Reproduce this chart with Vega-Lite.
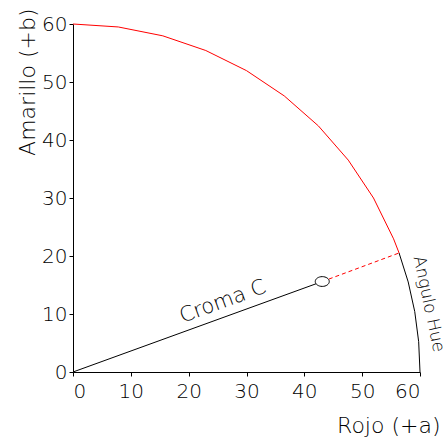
{
  "$schema": "https://vega.github.io/schema/vega-lite/v6.json",
  "autosize": "none",
  "width": 347,
  "height": 348,
  "padding": {"left": 73, "top": 24, "right": 26, "bottom": 67},
  "background": "white",
  "config": {
    "view": {"stroke": null},
    "axis": {
      "grid": false,
      "domainColor": "black",
      "domainWidth": 1,
      "tickColor": "black",
      "tickSize": 4,
      "labelFont": "DejaVu Sans",
      "labelFontSize": 20,
      "labelFontWeight": 200,
      "labelColor": "black",
      "titleFont": "DejaVu Sans",
      "titleFontSize": 22,
      "titleFontWeight": 200,
      "titleColor": "black"
    }
  },
  "datasets": {
    "redArc": [
      {"a": 0, "b": 60, "o": 1},
      {"a": 7.83, "b": 59.49, "o": 2},
      {"a": 15.53, "b": 57.96, "o": 3},
      {"a": 22.96, "b": 55.43, "o": 4},
      {"a": 30.0, "b": 51.96, "o": 5},
      {"a": 36.53, "b": 47.6, "o": 6},
      {"a": 42.43, "b": 42.43, "o": 7},
      {"a": 47.6, "b": 36.53, "o": 8},
      {"a": 51.96, "b": 30.0, "o": 9},
      {"a": 55.43, "b": 22.96, "o": 10},
      {"a": 56.38, "b": 20.52, "o": 11}
    ],
    "blackArc": [
      {"a": 56.38, "b": 20.52, "o": 1},
      {"a": 57.96, "b": 15.53, "o": 2},
      {"a": 59.09, "b": 10.42, "o": 3},
      {"a": 59.77, "b": 5.23, "o": 4},
      {"a": 60, "b": 0, "o": 5}
    ],
    "chroma": [
      {"a": 0, "b": 0, "o": 1},
      {"a": 43.1, "b": 15.6, "o": 2}
    ],
    "dashed": [
      {"a": 43.1, "b": 15.6, "o": 1},
      {"a": 56.38, "b": 20.52, "o": 2}
    ],
    "point": [
      {"a": 43.1, "b": 15.6}
    ],
    "labels": [
      {"a": 25.9, "b": 12.1, "t": "Croma C", "ang": -20, "fs": 21},
      {"a": 61.5, "b": 11.7, "t": "Angulo Hue", "ang": 78, "fs": 17}
    ]
  },
  "encoding": {
    "x": {
      "field": "a", "type": "quantitative",
      "scale": {"domain": [0, 60], "nice": false, "zero": false},
      "axis": {
        "values": [0, 10, 20, 30, 40, 50, 60],
        "title": "Rojo (+a)",
        "labelPadding": 5,
        "titleAnchor": null,
        "titleAlign": "right",
        "titleBaseline": "alphabetic",
        "titleX": 367,
        "titleY": 60
      }
    },
    "y": {
      "field": "b", "type": "quantitative",
      "scale": {"domain": [0, 60], "nice": false, "zero": false},
      "axis": {
        "values": [0, 10, 20, 30, 40, 50, 60],
        "title": "Amarillo (+b)",
        "labelPadding": 2,
        "titleAnchor": null,
        "titleAngle": -90,
        "titleAlign": "right",
        "titleBaseline": "alphabetic",
        "titleX": -39,
        "titleY": -16
      }
    }
  },
  "layer": [
    {
      "data": {"name": "redArc"},
      "mark": {"type": "line", "color": "#ff0000", "strokeWidth": 1},
      "encoding": {"order": {"field": "o"}}
    },
    {
      "data": {"name": "blackArc"},
      "mark": {"type": "line", "color": "black", "strokeWidth": 1},
      "encoding": {"order": {"field": "o"}}
    },
    {
      "data": {"name": "chroma"},
      "mark": {"type": "line", "color": "black", "strokeWidth": 1},
      "encoding": {"order": {"field": "o"}}
    },
    {
      "data": {"name": "dashed"},
      "mark": {"type": "line", "color": "#ff0000", "strokeWidth": 1, "strokeDash": [4, 3]},
      "encoding": {"order": {"field": "o"}}
    },
    {
      "data": {"name": "point"},
      "mark": {
        "type": "point",
        "shape": "M-1,0A1,0.7 0 1,0 1,0A1,0.7 0 1,0 -1,0Z",
        "size": 196,
        "filled": false,
        "fill": "white",
        "fillOpacity": 1,
        "stroke": "black",
        "strokeWidth": 1,
        "opacity": 1
      }
    },
    {
      "data": {"name": "labels"},
      "mark": {"type": "text", "font": "DejaVu Sans", "fontWeight": 200, "color": "black", "align": "center", "baseline": "middle"},
      "encoding": {
        "text": {"field": "t"},
        "angle": {"field": "ang", "type": "quantitative", "scale": null},
        "size": {"field": "fs", "type": "quantitative", "scale": null}
      }
    }
  ]
}
